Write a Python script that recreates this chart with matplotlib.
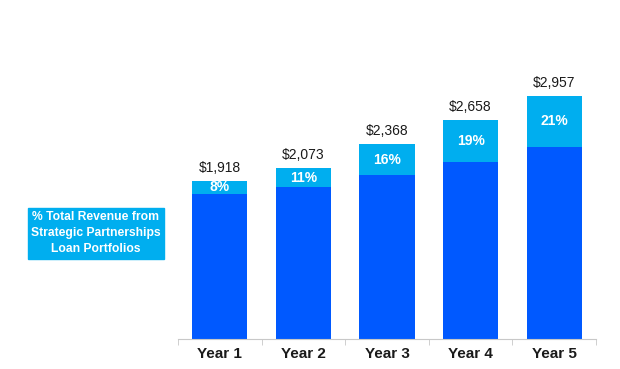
import numpy as np
import matplotlib.pyplot as plt
from matplotlib.patches import Rectangle

plt.rcParams['font.family'] = ['Liberation Sans', 'DejaVu Sans']

COLORS = {
    'base': '#0059FF',
    'partner': '#00AEEF',
    'text': '#1a1a1a',
    'axis': '#c8c8c8',
}

years = ['Year 1', 'Year 2', 'Year 3', 'Year 4', 'Year 5']
totals = [1918, 2073, 2368, 2658, 2957]
partner_pct = [8, 11, 16, 19, 21]
legend_text = '% Total Revenue from\nStrategic Partnerships\nLoan Portfolios'

total = np.array(totals, dtype=float)
partner = total * np.array(partner_pct) / 100.0
base = total - partner
x = np.arange(len(years))

fig = plt.figure(figsize=(6.2, 3.69), dpi=100)
ax = fig.add_axes([178 / 620, 30 / 369, 418 / 620, 288 / 369])

ax.bar(x, base, width=0.66, color=COLORS['base'])
ax.bar(x, partner, width=0.66, bottom=base, color=COLORS['partner'])

for i in range(len(years)):
    ax.text(x[i], total[i] + 75, '${:,}'.format(totals[i]), ha='center', va='bottom',
            fontsize=10, color=COLORS['text'])
    ax.text(x[i], base[i] + partner[i] / 2, '{}%'.format(partner_pct[i]), ha='center',
            va='center', fontsize=10, fontweight='bold', color='white')

ax.set_xlim(-0.5, len(years) - 0.5)
ax.set_ylim(0, 3500)
for side in ['top', 'right', 'left']:
    ax.spines[side].set_visible(False)
ax.spines['bottom'].set_color(COLORS['axis'])
ax.set_yticks([])
ax.set_xticks(x)
ax.set_xticklabels(years, fontsize=11, fontweight='bold', color=COLORS['text'])
ax.tick_params(axis='x', which='major', length=0, pad=6)
ax.set_xticks(np.arange(-0.5, len(years)), minor=True)
ax.tick_params(axis='x', which='minor', length=4, color=COLORS['axis'])

# legend box on the left
fig.patches.append(Rectangle((28 / 620, 1 - 259 / 369), 136 / 620, 51 / 369,
                             transform=fig.transFigure, color=COLORS['partner']))
fig.text(96 / 620, 1 - 233 / 369, legend_text, ha='center', va='center',
         fontsize=8.7, fontweight='bold', color='white', linespacing=1.4)

fig.savefig('out.png', dpi=100)
